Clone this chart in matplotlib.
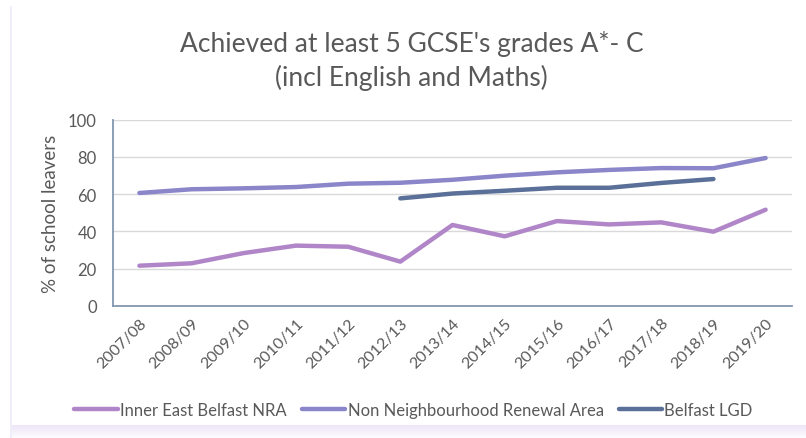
import matplotlib
matplotlib.use("Agg")
import matplotlib.pyplot as plt
from matplotlib.patches import Rectangle
import numpy as np

plt.rcParams['font.family'] = ['Lato', 'DejaVu Sans']

years = ["2007/08", "2008/09", "2009/10", "2010/11", "2011/12", "2012/13", "2013/14",
         "2014/15", "2015/16", "2016/17", "2017/18", "2018/19", "2019/20"]
inner_east = [21.5, 22.8, 28.3, 32.3, 31.7, 23.7, 43.4, 37.3, 45.5, 43.7, 44.8, 39.8, 51.6]
non_nra = [60.6, 62.6, 63.1, 63.8, 65.6, 66.1, 67.7, 69.9, 71.7, 73.0, 74.0, 73.9, 79.4]
belfast_lgd = [np.nan, np.nan, np.nan, np.nan, np.nan, 57.7, 60.3, 61.8, 63.4, 63.4, 66.0, 68.1, np.nan]
yticks = [0, 20, 40, 60, 80, 100]

fig = plt.figure(figsize=(8.06, 4.39), dpi=100)
fig.patch.set_facecolor('white')

# soft frame / bottom gradient
grad = np.linspace(0, 1, 50).reshape(-1, 1)
gax = fig.add_axes([10/806, 0, 796/806, 13/439])
gax.imshow(grad, aspect='auto', cmap=matplotlib.colors.LinearSegmentedColormap.from_list(
    'g', ['#ede6f7', '#fdfcff']), extent=[0, 1, 0, 1])
gax.axis('off')
fig.add_artist(Rectangle((10/806, 0), 2/806, 432/439, transform=fig.transFigure,
                         color='#f1eefb', lw=0))

ax = fig.add_axes([113.3/806, 1 - 306.7/439, (791.7 - 113.3)/806, (306.7 - 120.7)/439])
x = np.arange(len(years))
lw = 3.2
ax.plot(x, inner_east, color='#b086c8', lw=lw, solid_capstyle='round', label='Inner East Belfast NRA')
ax.plot(x, non_nra, color='#8b86c9', lw=lw, solid_capstyle='round', label='Non Neighbourhood Renewal Area')
ax.plot(x, belfast_lgd, color='#5a7098', lw=lw, solid_capstyle='round', label='Belfast LGD')

ax.set_xlim(-0.5, len(years) - 0.5)
ax.set_ylim(0, 100)
ax.set_yticks(yticks)
ax.set_xticks(x)
ax.set_xticklabels(years, rotation=45, ha='right', rotation_mode='anchor')
ax.tick_params(axis='both', length=0, colors='#595959')
ax.tick_params(axis='y', pad=12, labelsize=12)
ax.tick_params(axis='x', pad=7, labelsize=11.5)
ax.grid(axis='y', color='#d9d9d9', lw=1)
ax.set_axisbelow(True)
for s in ['top', 'right']:
    ax.spines[s].set_visible(False)
for s in ['left', 'bottom']:
    ax.spines[s].set_color('#8497b0')
    ax.spines[s].set_linewidth(1.3)
ax.set_ylabel('% of school leavers', fontsize=13.5, color='#595959', labelpad=6)

fig.text(0.5105, 1 - 61/439, "Achieved at least 5 GCSE's grades A*- C\n(incl English and Maths)",
         ha='center', va='center', fontsize=19, color='#595959', linespacing=1.35)

leg = ax.legend(loc='center', bbox_to_anchor=(0.513, 1 - 411/439), bbox_transform=fig.transFigure,
                ncol=3, frameon=False, fontsize=12, handlelength=2.6, handletextpad=0.15,
                columnspacing=0.9, labelcolor='#595959')

fig.savefig('out.png', dpi=100, facecolor='white')
